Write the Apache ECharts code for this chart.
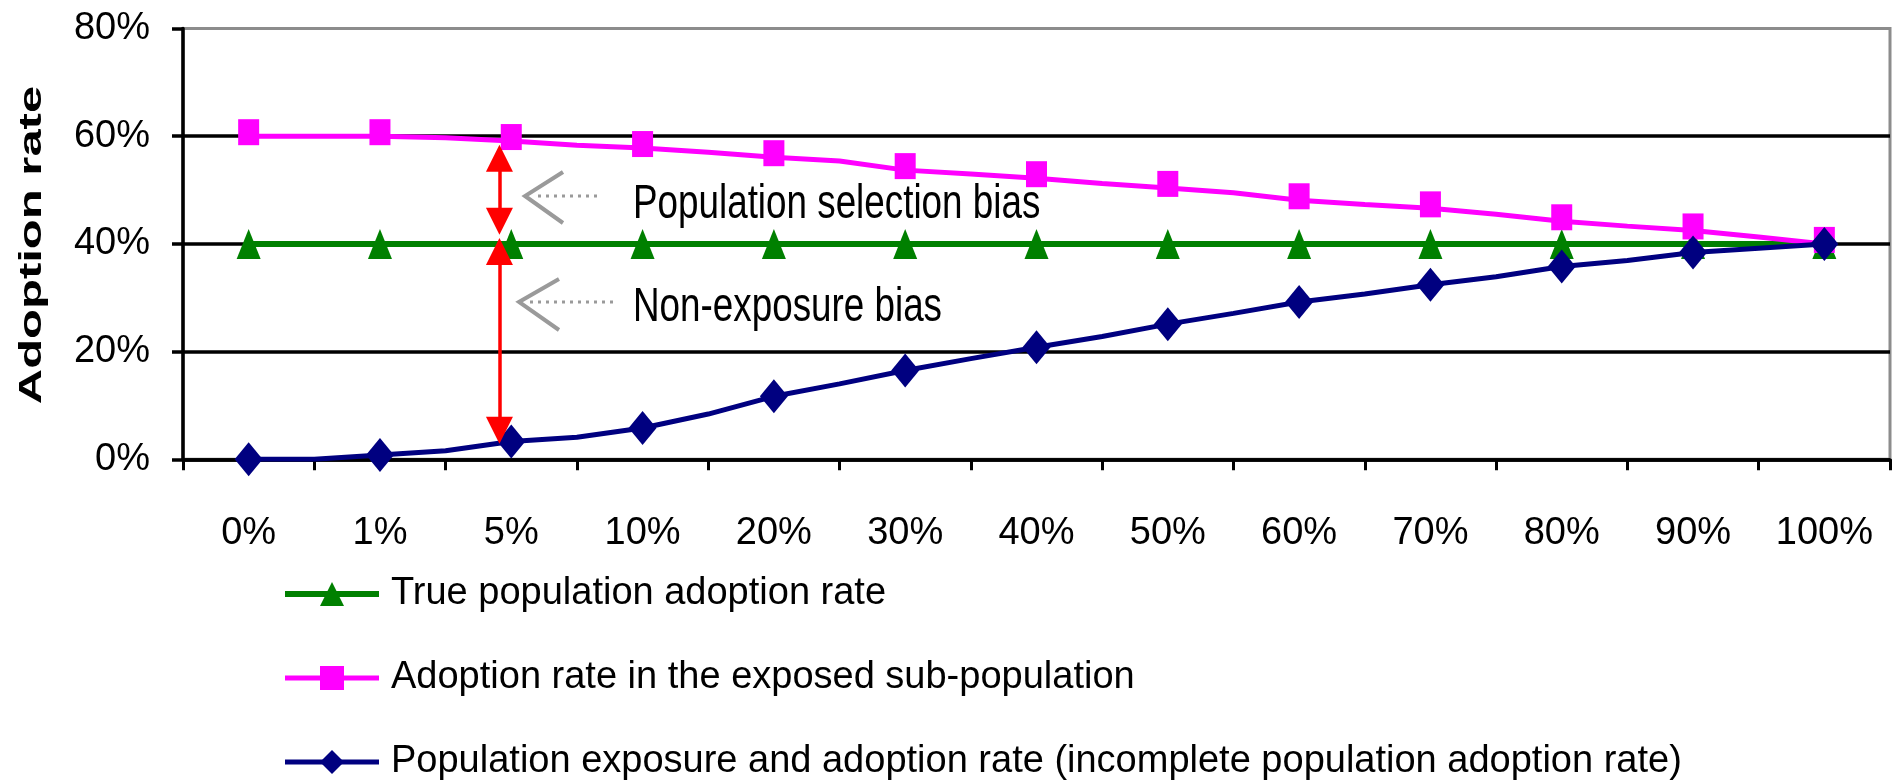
<!DOCTYPE html>
<html>
<head>
<meta charset="utf-8">
<title>Adoption rate</title>
<script src="https://cdn.jsdelivr.net/npm/echarts@6.0.0/dist/echarts.min.js"></script>
<style>
  html, body { margin: 0; padding: 0; background: #fff; }
  #chart { width: 1899px; height: 783px; }
</style>
</head>
<body>
<div id="chart"></div>
<script>
// x categories (share of population exposed)
const xLabels = ['0%', '1%', '5%', '10%', '20%', '30%', '40%', '50%', '60%', '70%', '80%', '90%', '100%']
const yTicks = [0, 20, 40, 60, 80]

// 25 points each: a point on every category, plus one half way between categories (no marker)
const truePop = [40, 40, 40, 40, 40, 40, 40, 40, 40, 40, 40, 40, 40, 40, 40, 40, 40, 40, 40, 40, 40, 40, 40, 40, 40]
const exposedSub = [60, 60, 60, 59.7, 59.1, 58.3, 57.8, 57.0, 56.1, 55.4, 53.7, 53.0, 52.2, 51.2, 50.4, 49.5, 48.1, 47.3, 46.6, 45.5, 44.2, 43.3, 42.5, 41.3, 40]
const exposureAdoption = [0, 0, 0.8, 1.6, 3.3, 4.1, 5.8, 8.4, 11.7, 14.0, 16.5, 18.7, 20.8, 22.8, 25.1, 27.1, 29.2, 30.7, 32.4, 33.9, 35.8, 36.9, 38.4, 39.2, 40]

const seriesNames = [
    'True population adoption rate',
    'Adoption rate in the exposed sub-population',
    'Population exposure and adoption rate (incomplete population adoption rate)'
]

const sans = "'Liberation Sans', Arial, sans-serif"

// category i sits at i + 0.5 on the value scale, the in-between points at whole numbers
const toPoints = vals => vals.map((v, i) => {
    const item = { value: [(i + 1) / 2, v] }
    if (i % 2 === 1) item.symbol = 'none'
    return item
})
const tickPos = xLabels.map((t, i) => i).concat([xLabels.length])
const labelPos = xLabels.map((t, i) => i + 0.5)

const chart = echarts.init(document.getElementById('chart'))
const option = {
    animation: false,
    grid: {
        left: 183, right: 9, top: 28.5, bottom: 323.7,
        show: true, borderColor: '#8c8c8c', borderWidth: 3
    },
    xAxis: {
        type: 'value',
        min: 0,
        max: xLabels.length,
        axisLine: { show: true, lineStyle: { color: '#000', width: 3.5 } },
        axisTick: { show: true, customValues: tickPos, length: 11, lineStyle: { color: '#000', width: 3 } },
        axisLabel: {
            customValues: labelPos,
            formatter: v => xLabels[Math.floor(v)],
            margin: 55,
            fontSize: 38,
            fontFamily: sans,
            color: '#000'
        },
        splitLine: { show: false }
    },
    yAxis: {
        type: 'value',
        min: yTicks[0],
        max: yTicks[yTicks.length - 1],
        interval: 20,
        axisLine: { show: true, lineStyle: { color: '#000', width: 3.5 } },
        axisTick: { show: true, length: 11, lineStyle: { color: '#000', width: 3.5 } },
        axisLabel: { formatter: '{value}%', margin: 33, fontSize: 38, fontFamily: sans, color: '#000' },
        splitLine: { show: true, showMaxLine: false, lineStyle: { color: '#000', width: 3.5 } }
    },
    legend: {
        orient: 'vertical',
        left: 282,
        top: 575,
        padding: 0,
        itemWidth: 94,
        itemHeight: 30,
        itemGap: 46,
        selectedMode: false,
        lineStyle: { width: 'inherit' },
        textStyle: { fontSize: 38, fontFamily: sans, color: '#000', padding: [0, 0, 0, 7] },
        data: seriesNames
    },
    series: [
        {
            name: seriesNames[0],
            type: 'line',
            data: toPoints(truePop),
            symbol: 'triangle',
            symbolSize: [24, 30],
            lineStyle: { color: '#008000', width: 6 },
            itemStyle: { color: '#008000' }
        },
        {
            name: seriesNames[1],
            type: 'line',
            data: toPoints(exposedSub),
            symbol: 'rect',
            symbolSize: [21, 26],
            symbolOffset: [0, -4],
            lineStyle: { color: '#ff00ff', width: 5 },
            itemStyle: { color: '#ff00ff' }
        },
        {
            name: seriesNames[2],
            type: 'line',
            data: toPoints(exposureAdoption),
            symbol: 'diamond',
            symbolSize: [28, 34],
            lineStyle: { color: '#000080', width: 5 },
            itemStyle: { color: '#000080' },
            // red double arrows showing the two biases at the 5% category
            markLine: {
                silent: true,
                symbol: ['triangle', 'triangle'],
                symbolSize: 27,
                label: { show: false },
                lineStyle: { color: '#ff0000', width: 3.5, type: 'solid' },
                itemStyle: { color: '#ff0000' },
                data: [
                    [{ coord: [2.41, 55.9] }, { coord: [2.41, 44.2] }],
                    [{ coord: [2.41, 38.6] }, { coord: [2.41, 5.4] }]
                ]
            }
        }
    ],
    graphic: [
        {
            type: 'text', x: 32, y: 245, rotation: Math.PI / 2, scaleX: 1.58,
            style: {
                text: 'Adoption rate', font: 'bold 31px ' + sans, fill: '#000',
                align: 'center', verticalAlign: 'middle', textAlign: 'center', textVerticalAlign: 'middle'
            }
        },
        // grey open arrows with dotted tails
        { type: 'polyline', shape: { points: [[563, 172], [525, 196], [563, 223]] }, style: { stroke: '#9a9a9a', lineWidth: 4, fill: null } },
        { type: 'line', shape: { x1: 538, y1: 196, x2: 602, y2: 196 }, style: { stroke: '#9a9a9a', lineWidth: 3, lineDash: [3, 5] } },
        { type: 'polyline', shape: { points: [[559, 279], [519, 302], [559, 330]] }, style: { stroke: '#9a9a9a', lineWidth: 4, fill: null } },
        { type: 'line', shape: { x1: 530, y1: 302, x2: 617, y2: 302 }, style: { stroke: '#9a9a9a', lineWidth: 3, lineDash: [3, 5] } },
        {
            type: 'text', x: 633, y: 205, scaleX: 0.767,
            style: { text: 'Population selection bias', font: '48px ' + sans, fill: '#000', verticalAlign: 'middle', textVerticalAlign: 'middle' }
        },
        {
            type: 'text', x: 633, y: 308, scaleX: 0.767,
            style: { text: 'Non-exposure bias', font: '48px ' + sans, fill: '#000', verticalAlign: 'middle', textVerticalAlign: 'middle' }
        }
    ]
}
chart.setOption(option)
</script>
</body>
</html>
